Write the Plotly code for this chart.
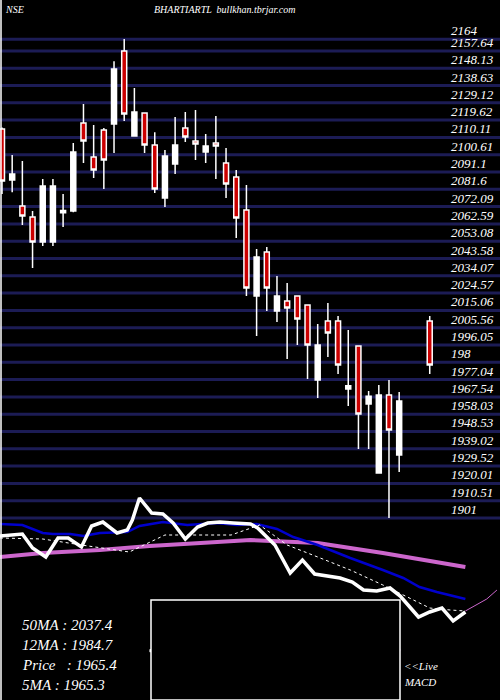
import plotly.graph_objects as go

# candle index positions (gap before the last candle)
idx = list(range(40)) + [42]
opens = [2114.7,2086.7,2072.4,2066.4,2052.6,2052.6,2069.9,2069.7,2118.0,2099.3,2114.2,2117.5,2157.6,2110.9,2123.5,2105.9,2076.8,2095.5,2115.3,2108.1,
         2102.1,2107.0,2096.0,2088.3,2070.2,2023.0,2047.1,2014.7,2020.2,2023.0,2018.0,1976.8,2009.2,2009.2,1971.9,1995.5,1963.6,1925.7,1968.6,1935.6,2009.2]
highs = [2115.5,2100.4,2097.1,2069.7,2087.2,2087.2,2079.0,2107.0,2128.5,2116.9,2115.3,2152.0,2164.2,2137.2,2123.5,2113.0,2103.2,2121.3,2124.0,2125.2,
         2112.0,2121.9,2104.3,2092.2,2084.0,2048.8,2049.9,2034.0,2030.1,2023.0,2018.0,2007.6,2019.1,2012.0,2004.3,1995.5,1970.8,1974.1,1976.8,1970.2,2012.0]
lows = [2079.0,2080.0,2062.0,2038.3,2050.4,2050.4,2060.9,2069.0,2096.0,2087.8,2081.8,2101.5,2119.1,2110.9,2101.5,2079.6,2071.9,2090.0,2107.6,2097.7,
        2096.0,2087.2,2076.8,2054.8,2023.0,2001.0,2014.7,2008.7,1988.4,1996.0,1977.4,1966.9,1989.5,1980.1,1962.5,1938.9,1938.9,1925.7,1901.0,1926.3,1980.1]
closes = [2086.1,2090.0,2066.9,2052.6,2083.4,2083.4,2068.7,2102.1,2108.1,2092.2,2097.7,2147.7,2123.0,2124.1,2105.9,2081.8,2099.9,2105.9,2110.3,2106.5,
          2105.4,2105.4,2084.5,2065.8,2027.4,2044.4,2027.4,2023.0,2016.4,2010.3,1996.0,1996.0,2002.6,1985.0,1973.6,1958.1,1967.9,1968.6,1949.4,1965.3,1985.0]

tick_vals = [1901 + k * 9.505 for k in range(28)] + [2164]
tick_text = ["1901","1910.51","1920.01","1929.52","1939.02","1948.53","1958.03","1967.54","1977.04","198",
             "1996.05","2005.56","2015.06","2024.57","2034.07","2043.58","2053.08","2062.59","2072.09","2081.6",
             "2091.1","2100.61","2110.11","2119.62","2129.12","2138.63","2148.13","2157.64","2164"]

# lower indicator panel (panel height units)
price_x = [-0.2,2,3,4.3,5.5,6.5,7.8,8.8,9.9,11.3,12.3,12.8,13.5,14.7,15.8,16.8,18,19.2,20.2,21.4,22.7,24.4,25.1,26.8,28.3,29.5,30.7,33.2,34.4,35.5,36.8,38.1,39.1,40.9,42,43.2,44.3,45.5]
price_v = [164,166,152,143,162,162,153,174,178,167,170,180,202,187,186,177,161,173,177,178,177,176,172,155,127,140,126,122,118,110,109,112,104,83,88,92,79,88]
ma5_x = [-0.2,4,7.8,12.5,16,22.5,25.3,28,31,34.2,37.4,40.8,42,44,45.5]
ma5_v = [162,161,155,148,165,165,175,155,143,130,115,98,92,90,89]
ma12_x = [-0.2,2,4,5,6.7,8,9.6,12.3,13.5,15.8,18.2,21.1,23.1,25,27,28.6,31,34.2,37.4,39.4,41,42.7,45.5]
ma12_v = [176,175,167,166,166,164,167,168,174,178,175,177,175,176,171,163,155,142,130,122,113,108,101]
ma50_x = [-0.2,4,9.6,14.5,19.5,24.4,31,37.4,45.5]
ma50_v = [143,147,150,154,157,160,157,147,133]
live_x = [45.5,47.6,48.6]
live_v = [89,101,110]
macd_x = [14.5,19.8,20.4,21.9,22.9,24.4,26.8,27.3,38.1]
macd_v = [49,49,41,48,46,41,41,49,49]

fig = go.Figure()
serif = "Liberation Serif"

for tv in tick_vals:
    fig.add_shape(type="line", xref="paper", yref="y", x0=0, x1=1, y0=tv, y1=tv,
                  line=dict(color="#1c1c55", width=3), layer="below")

fig.add_trace(go.Candlestick(x=idx, open=opens, high=highs, low=lows, close=closes,
    increasing=dict(fillcolor="white", line=dict(color="white", width=1.5)),
    decreasing=dict(fillcolor="#cc0000", line=dict(color="white", width=1.5)),
    whiskerwidth=0, showlegend=False))

fig.add_trace(go.Scatter(x=ma50_x, y=ma50_v, yaxis="y2", mode="lines", line=dict(color="#cc66cc", width=4), showlegend=False))
fig.add_trace(go.Scatter(x=ma12_x, y=ma12_v, yaxis="y2", mode="lines", line=dict(color="#0000cc", width=2.5), showlegend=False))
fig.add_trace(go.Scatter(x=ma5_x, y=ma5_v, yaxis="y2", mode="lines", line=dict(color="white", width=1, dash="dot"), showlegend=False))
fig.add_trace(go.Scatter(x=price_x, y=price_v, yaxis="y2", mode="lines", line=dict(color="white", width=3.5), showlegend=False))
fig.add_trace(go.Scatter(x=live_x, y=live_v, yaxis="y2", mode="lines", line=dict(color="#cc66cc", width=1), showlegend=False))

fig.add_shape(type="rect", xref="paper", yref="paper", x0=0.302, x1=0.80, y0=0, y1=100/700,
              line=dict(color="white", width=1.5), fillcolor="black")
fig.add_trace(go.Scatter(x=[14.5, 38.1], y=[49.5, 49.5], yaxis="y2", mode="lines", line=dict(color="white", width=3), showlegend=False))
fig.add_trace(go.Scatter(x=[19.8, 27.3], y=[50, 50], yaxis="y2", mode="lines", line=dict(color="#cc66cc", width=2.5), showlegend=False))
fig.add_trace(go.Scatter(x=[38.1, 39.1], y=[50, 50], yaxis="y2", mode="lines", line=dict(color="#cc66cc", width=2.5), showlegend=False))
fig.add_trace(go.Scatter(x=macd_x, y=macd_v, yaxis="y2", mode="lines", line=dict(color="white", width=2.5), showlegend=False))

fig.add_shape(type="line", xref="paper", yref="paper", x0=0.002, x1=0.002, y0=0, y1=1, line=dict(color="white", width=1.5))

for tv, tt in zip(tick_vals, tick_text):
    fig.add_annotation(x=449/500, xref="paper", y=tv, yref="y", text="<i>" + tt + "</i>", showarrow=False, xanchor="left",
                       yanchor="bottom", yshift=-1, font=dict(family=serif, size=13, color="white"))

labels = ["50MA : 2037.4", "12MA : 1984.7", "Price   : 1965.4", "5MA : 1965.3"]
for i, t in enumerate(labels):
    fig.add_annotation(x=20/500, xref="paper", y=1 - (625 + i * 20) / 700, yref="paper", text="<i>" + t + "</i>",
                       showarrow=False, xanchor="left", yanchor="middle", font=dict(family=serif, size=15, color="white"))
fig.add_annotation(x=402/500, xref="paper", y=1 - 666 / 700, yref="paper", text="<i>&lt;&lt;Live</i>", showarrow=False,
                   xanchor="left", yanchor="middle", font=dict(family=serif, size=11, color="white"))
fig.add_annotation(x=402/500, xref="paper", y=1 - 682 / 700, yref="paper", text="<i>MACD</i>", showarrow=False,
                   xanchor="left", yanchor="middle", font=dict(family=serif, size=11, color="white"))
fig.add_annotation(x=3/500, xref="paper", y=1 - 9 / 700, yref="paper", text="<i>NSE</i>", showarrow=False,
                   xanchor="left", yanchor="middle", font=dict(family=serif, size=10, color="white"))
fig.add_annotation(x=152/500, xref="paper", y=1 - 9 / 700, yref="paper", text="<i>BHARTIARTL  bullkhan.tbrjar.com</i>", showarrow=False,
                   xanchor="left", yanchor="middle", font=dict(family=serif, size=10, color="white"))

fig.update_layout(
    width=500, height=700, margin=dict(l=0, r=0, t=0, b=0),
    paper_bgcolor="black", plot_bgcolor="black",
    xaxis=dict(range=[-0.196, 48.9], visible=False, rangeslider=dict(visible=False), fixedrange=True),
    yaxis=dict(range=[1801.0, 2185.6], visible=False, showgrid=False),
    yaxis2=dict(range=[0, 700], overlaying="y", visible=False, showgrid=False),
)
fig.write_html("out.html", config={"displayModeBar": False},
               post_script="document.body.style.margin='0';document.body.style.background='black';")
